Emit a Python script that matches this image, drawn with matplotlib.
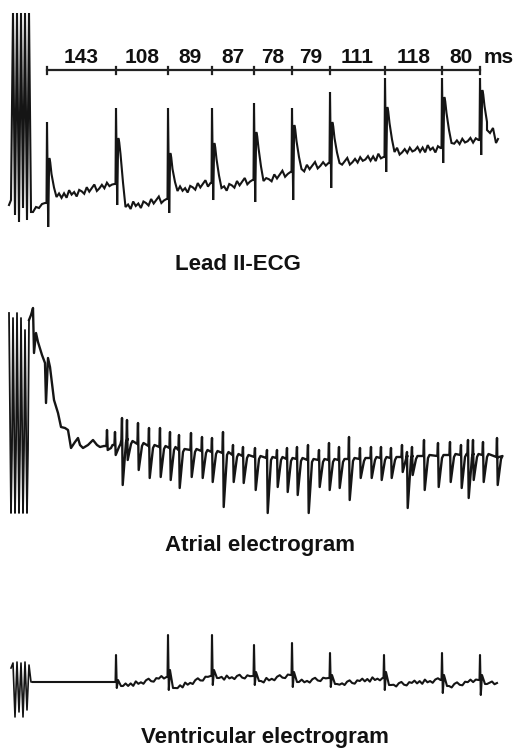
import matplotlib.pyplot as plt

# values, in figure pixels (x to the right, y downward)

# ---- Lead II ECG ----
ecg_stim_x = [9, 11, 13, 15, 17, 19, 21, 23, 25, 27, 29, 31, 33, 36, 39, 42, 45]
ecg_stim_y = [205, 200, 13, 215, 13, 222, 13, 208, 13, 220, 13, 212, 212, 207, 208, 204, 203]
ecg_beat_x = [47, 116, 168, 212, 254, 292, 330, 385, 442, 480]
ecg_peak = [122, 108, 108, 108, 103, 108, 92, 78, 78, 78]
ecg_dip = [227, 205, 213, 200, 202, 200, 188, 172, 163, 155]
ecg_shoulder = [158, 138, 153, 143, 132, 125, 122, 107, 97, 90]
ecg_after = [197, 207, 191, 188, 181, 169, 163, 152, 143, 134]
ecg_before = [203, 184, 199, 183, 180, 172, 163, 157, 148, 140]
ecg_end = [(487, 130), (490, 133), (493, 128), (496, 143), (498, 139)]
ecg_jitter = [0, -3, 2, -2, 3, -4, 1, -1, 4, -2, 0, 3, -3, 2, -1, -4, 3, 1, -2, 2, -3, 1]
intervals_ms = [143, 108, 89, 87, 78, 79, 111, 118, 80]

# ---- Atrial electrogram ----
atr_stim_x = [9, 11, 12, 13, 15, 16, 17, 19, 20, 21, 23, 24, 25, 27, 28, 29]
atr_stim_y = [313, 513, 450, 318, 513, 450, 313, 513, 450, 318, 513, 450, 330, 513, 450, 320]
atr_lead_x = [31, 33, 34, 36, 38, 42, 45, 46, 48, 50, 54, 58, 61, 65, 68, 71, 75, 78,
              80, 83, 88, 93, 97, 100, 104]
atr_lead_y = [315, 308, 353, 333, 342, 355, 363, 403, 358, 367, 400, 413, 427, 428, 430,
              448, 442, 438, 445, 448, 445, 440, 445, 447, 446]
atr_x = [107, 115, 122, 127, 138, 149, 160, 170, 179, 191, 202, 212, 223, 233, 243, 255,
         267, 277, 287, 297, 308, 319, 329, 339, 349, 360, 371, 381, 391, 402, 407, 412,
         424, 438, 450, 461, 468, 473, 483, 497]
atr_tip = [430, 432, 418, 420, 423, 428, 428, 432, 435, 433, 437, 438, 432, 445, 447, 448,
           450, 450, 448, 447, 445, 450, 443, 447, 437, 448, 447, 447, 448, 445, 452, 447,
           440, 443, 442, 445, 440, 440, 442, 438]
atr_dip = [450, 455, 485, 460, 470, 478, 477, 480, 488, 477, 478, 482, 507, 482, 483, 490,
           513, 487, 492, 495, 513, 487, 490, 488, 500, 478, 478, 480, 478, 472, 508, 475,
           490, 487, 482, 488, 498, 480, 482, 485]
atr_base = [446, 445, 440, 442, 444, 446, 447, 448, 450, 450, 451, 452, 453, 455, 456, 457,
            458, 458, 459, 459, 460, 460, 460, 460, 459, 459, 458, 458, 458, 457, 457, 457,
            456, 456, 455, 455, 455, 455, 455, 457]

# ---- Ventricular electrogram ----
ven_stim_x = [11, 13, 15, 17, 19, 21, 23, 25, 27, 29, 31, 33]
ven_stim_y = [668, 663, 717, 662, 712, 663, 717, 662, 710, 665, 682, 682]
ven_beat_x = [116, 168, 212, 254, 292, 330, 384, 442, 480]
ven_peak = [655, 635, 635, 645, 643, 653, 655, 653, 655]
ven_before = [682, 677, 676, 676, 675, 678, 678, 680, 680]
ven_dip = [688, 690, 685, 685, 687, 687, 690, 693, 695]
ven_shoulder = [680, 670, 670, 672, 672, 675, 672, 675, 675]
ven_after = [686, 688, 678, 681, 682, 684, 685, 686, 684]
ven_jitter = [0, -2, 1, -1, 2, -2, 1, 0, 2, -1, -2, 1, 2, -1]
ven_end_x = 497


def wiggle(x0, y0, x1, y1, jit, step=2.5):
    xs, ys = [], []
    n = max(int((x1 - x0) / step), 1)
    for k in range(n + 1):
        f = k / n
        xs.append(x0 + (x1 - x0) * f)
        j = jit[k % len(jit)] if 0 < k < n else 0
        ys.append(y0 + (y1 - y0) * f + j)
    return xs, ys


fig = plt.figure(figsize=(5.15, 7.53), dpi=100)
ax = fig.add_axes([0, 0, 1, 1])
ax.set_xlim(0, 515)
ax.set_ylim(753, 0)
ax.axis('off')

ink = '#151515'

# ECG trace
ex, ey = list(ecg_stim_x), list(ecg_stim_y)
for i, bx in enumerate(ecg_beat_x):
    s = ecg_shoulder[i]
    ex += [bx - 0.5, bx, bx + 1.2, bx + 2.2, bx + 3.2, bx + 4.5, bx + 7]
    ey += [ecg_before[i], ecg_peak[i], ecg_dip[i], s, s + 4, s + 16,
           (s + ecg_after[i]) / 2 + 10]
    if i + 1 < len(ecg_beat_x):
        wx, wy = wiggle(bx + 9.5, ecg_after[i], ecg_beat_x[i + 1] - 1.5, ecg_before[i + 1],
                        ecg_jitter[i * 2:] + ecg_jitter[:i * 2])
        ex += wx
        ey += wy
for px, py in ecg_end:
    ex.append(px)
    ey.append(py)
ax.plot(ex, ey, color=ink, lw=1.5, solid_joinstyle='miter')

# interval bar
bar_y = 70
ax.plot([ecg_beat_x[0], ecg_beat_x[-1]], [bar_y, bar_y], color='#222222', lw=1.6)
for bx in ecg_beat_x:
    ax.plot([bx, bx], [bar_y - 3.5, bar_y + 3.5], color='#222222', lw=1.6)
for i, ms in enumerate(intervals_ms):
    mid = (ecg_beat_x[i] + ecg_beat_x[i + 1]) / 2
    ax.text(mid, 57, str(ms), ha='center', va='center', fontsize=15,
            fontweight='bold', family='Liberation Sans', color='#111111')
ax.text(484, 57, 'ms', ha='left', va='center', fontsize=15,
        fontweight='bold', family='Liberation Sans', color='#111111')

# atrial trace
ax.plot(atr_stim_x, atr_stim_y, color=ink, lw=1.3)
axx = [atr_stim_x[-1]] + list(atr_lead_x)
ayy = [atr_stim_y[-1]] + list(atr_lead_y)
for i, t in enumerate(atr_x):
    b = atr_base[i]
    axx += [t - 0.6, t, t + 0.7, t + 4, t + 5.5]
    ayy += [b, atr_tip[i], atr_dip[i], b + 2, b - 1]
axx.append(499)
ayy.append(457)
ax.plot(axx, ayy, color=ink, lw=1.7)

# ventricular trace
ax.plot(ven_stim_x, ven_stim_y, color=ink, lw=1.2)
vx = [ven_stim_x[-1]]
vy = [ven_stim_y[-1]]
for i, bx in enumerate(ven_beat_x):
    vx += [bx - 0.5, bx, bx + 0.8, bx + 2, bx + 5]
    vy += [ven_before[i], ven_peak[i], ven_dip[i], ven_shoulder[i], ven_after[i]]
    nxt = ven_beat_x[i + 1] - 1.5 if i + 1 < len(ven_beat_x) else ven_end_x
    nlev = ven_before[i + 1] if i + 1 < len(ven_beat_x) else 683
    wx, wy = wiggle(bx + 7, ven_after[i], nxt, nlev, ven_jitter[i:] + ven_jitter[:i])
    vx += wx
    vy += wy
ax.plot(vx, vy, color=ink, lw=1.5)

# captions
cap = dict(ha='center', va='center', fontsize=16, fontweight='bold',
           family='Liberation Sans', color='#111111')
ax.text(238, 264, 'Lead II-ECG', **cap)
ax.text(260, 546, 'Atrial electrogram', **cap)
ax.text(265, 737, 'Ventricular electrogram', **cap)

fig.savefig('out.png', dpi=100)
